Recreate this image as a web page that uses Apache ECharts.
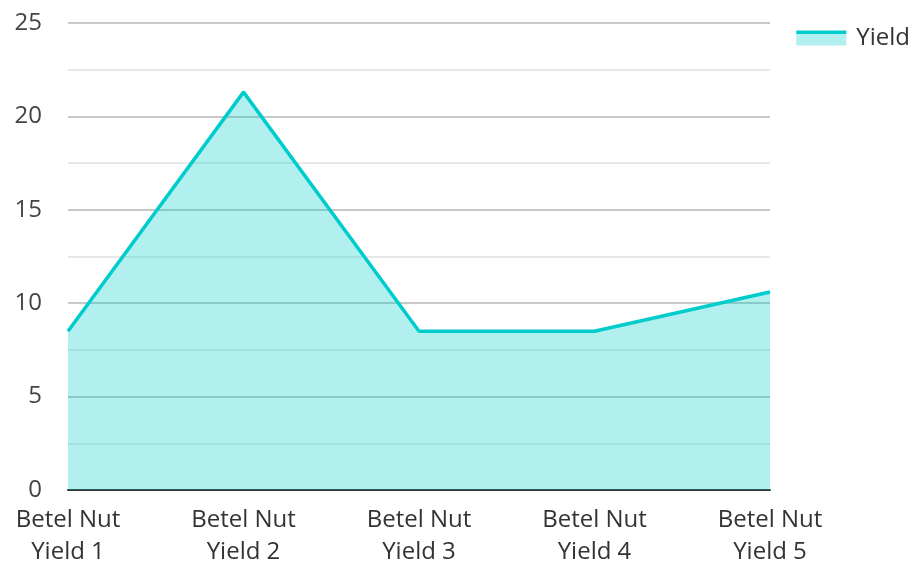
<!DOCTYPE html>
<html>
<head>
<meta charset="utf-8">
<script src="https://cdn.jsdelivr.net/npm/echarts@6/dist/echarts.min.js"></script>
<style>html,body{margin:0;padding:0;background:#fff;overflow:hidden;}#c{width:911px;height:562px;}</style>
</head>
<body>
<div id="c"></div>
<script>
const categories = ["Betel Nut\nYield 1", "Betel Nut\nYield 2", "Betel Nut\nYield 3", "Betel Nut\nYield 4", "Betel Nut\nYield 5"];
const yieldValues = [8.5, 21.3, 8.5, 8.5, 10.6];
const seriesName = "Yield";

const chart = echarts.init(document.getElementById('c'));
const font = "'Open Sans', 'Noto Sans', sans-serif";
chart.setOption({
  animation: false,
  textStyle: { fontFamily: font },
  grid: { left: 68, right: 141, top: 23, bottom: 72, containLabel: false, outerBoundsMode: 'none' },
  legend: {
    right: -4, top: 21,
    icon: 'rect',
    itemWidth: 50, itemHeight: 15, itemGap: 10,
    textStyle: { fontFamily: font, fontSize: 24, color: '#333', padding: [0, 0, 14, 5] },
    itemStyle: {
      color: {
        type: 'linear', x: 0, y: 0, x2: 0, y2: 1,
        colorStops: [
          { offset: 0, color: '#00cccc' },
          { offset: 0.24, color: '#00cccc' },
          { offset: 0.24, color: '#b2efef' },
          { offset: 1, color: '#b2efef' }
        ]
      }
    },
    data: [seriesName]
  },
  xAxis: {
    type: 'category',
    data: categories,
    boundaryGap: false,
    axisLine: { show: true, lineStyle: { color: '#333', width: 2 } },
    axisTick: { show: false },
    axisLabel: { fontFamily: font, fontSize: 24, color: '#333', lineHeight: 32, margin: 14, interval: 0 },
    splitLine: { show: false }
  },
  yAxis: {
    type: 'value',
    min: 0, max: 25, interval: 5,
    axisLine: { show: false },
    axisTick: { show: false },
    axisLabel: { fontFamily: font, fontSize: 24, color: '#444', margin: 26 },
    splitLine: { show: true, lineStyle: { color: '#c8c8c8', width: 2 } },
    minorTick: { show: false, splitNumber: 2 },
    minorSplitLine: { show: true, lineStyle: { color: '#e8e8e8', width: 2 } }
  },
  series: [{
    name: seriesName,
    type: 'line',
    data: yieldValues,
    symbol: 'none',
    lineStyle: { color: '#00cccc', width: 3.5 },
    itemStyle: { color: '#00cccc' },
    areaStyle: { color: '#00cccc', opacity: 0.3 }
  }]
});
</script>
</body>
</html>
